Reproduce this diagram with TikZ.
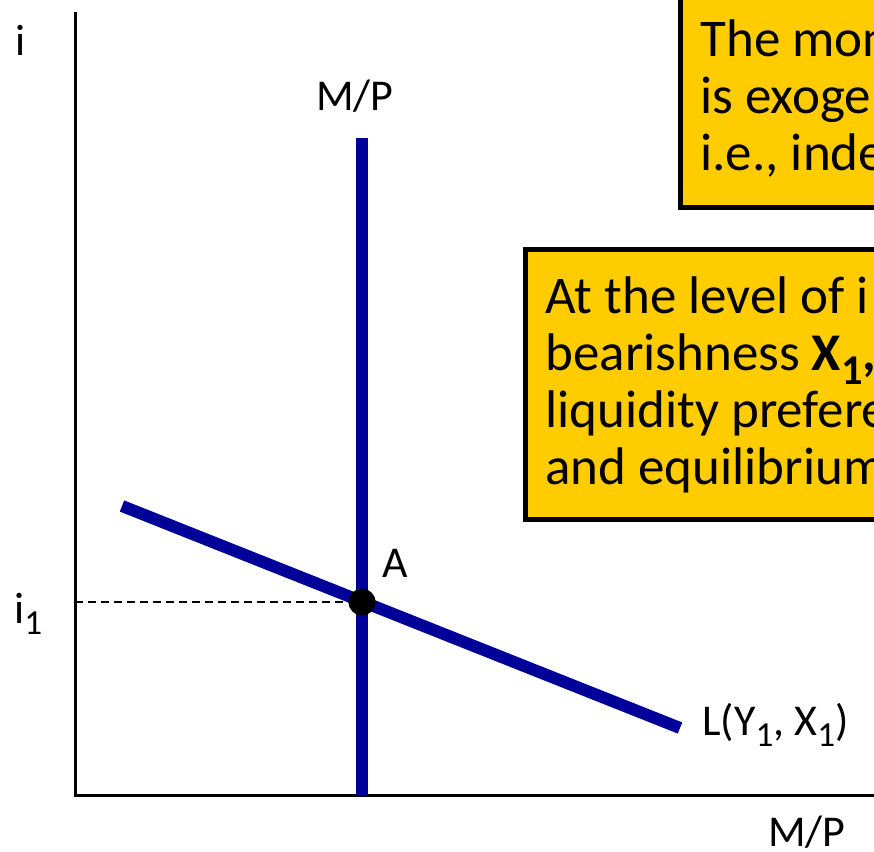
\documentclass[tikz,border=0pt]{standalone}
\usepackage{fontspec}
\setmainfont{Carlito}
\definecolor{curveblue}{RGB}{0,0,153}
\definecolor{notegold}{RGB}{255,204,0}
\newcommand{\lowidx}[1]{\raisebox{-0.27em}{\scalebox{0.8}{#1}}}

\begin{document}
\begin{tikzpicture}[x=0.5pt,y=-0.5pt,>=stealth,
  axis/.style={line width=1.5pt},
  curve/.style={line width=6pt,curveblue},
  lbl/.style={font=\fontsize{22}{26}\selectfont,inner sep=0pt},
  note/.style={draw,line width=2.5pt,fill=notegold,anchor=north west,align=flush left,
    text width=420pt,inner xsep=10pt,font=\fontsize{26.5}{28.5}\selectfont}]
\path[use as bounding box] (0,0) rectangle (874,852);
\clip (0,0) rectangle (874,852);

% axes
\coordinate (O) at (75,795);
\coordinate (ytop) at (75,12);
\coordinate (xend) at (880,795);
\draw[axis] (ytop) -- (O) -- (xend);
\node[lbl,anchor=base] (ilab) at (21,55) {i};
\node[lbl,anchor=base] (mplab) at (807,846) {M/P};

% money supply and liquidity preference
\coordinate (mstop) at (362,138);
\coordinate (msbot) at (362,795);
\coordinate (lstart) at (122,506);
\coordinate (lend) at (680,728);
\draw[curve] (mstop) -- (msbot);
\draw[curve] (lstart) -- (lend);
\node[lbl,anchor=base] (mslab) at (355,110) {M/P};
\node[lbl,anchor=base west] (llab) at (702,735) {L(Y\lowidx{1}, X\lowidx{1})};

% equilibrium
\coordinate (A) at (362,602);
\coordinate (iax) at (75,602);
\draw[line width=1pt,dash pattern=on 4pt off 2.5pt] (iax) -- (A);
\fill (A) circle (6.75pt);
\node[lbl,anchor=base] (alab) at (395,577) {A};
\node[lbl,anchor=base west] (i1lab) at (14,623) {i\lowidx{1}};

% notes
\node[note,minimum height=109pt] (supply) at (678,-13)
  {The mon\\is exoge\\i.e., inde};
\node[note,minimum height=135pt] (level) at (523,247)
  {At the level of i\\bearishness \textbf{X\lowidx{1},}\\liquidity prefere\\and equilibrium};
\end{tikzpicture}
\end{document}
